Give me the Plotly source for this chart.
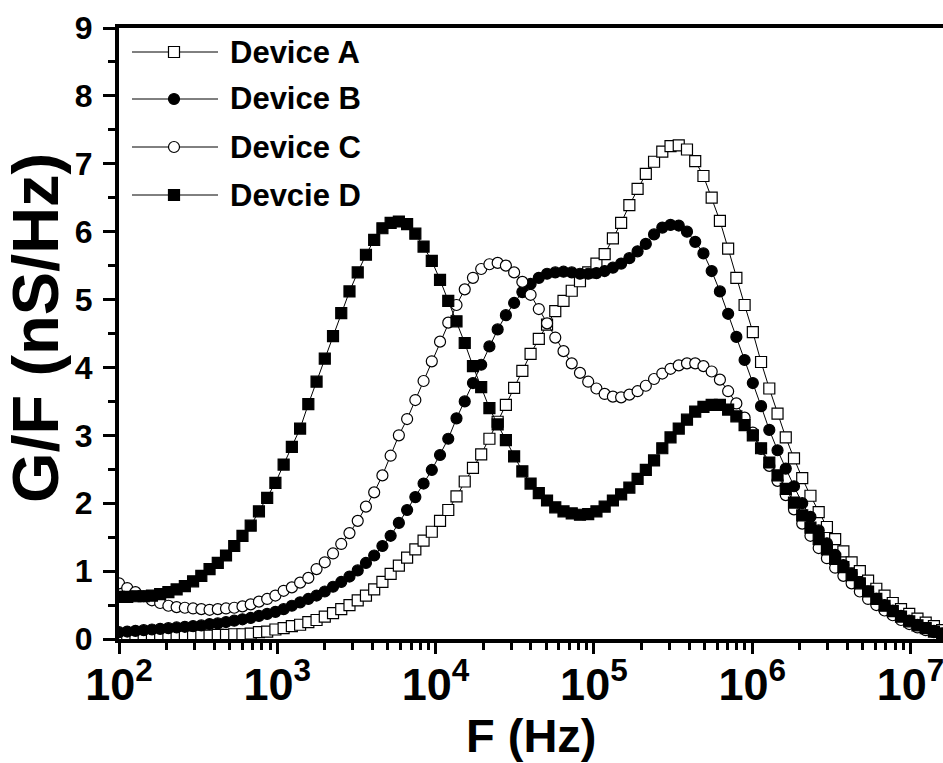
import numpy as np
import plotly.graph_objects as go

# Frequency sweep (Hz): 101 log-spaced points, 100 Hz .. ~16 MHz
freq_hz = np.logspace(2, 7.2, 101)

# Normalised parallel conductance G/F (nS/Hz)
device_a = [
    0.03, 0.03, 0.03, 0.03, 0.03, 0.03, 0.03, 0.04, 0.04, 0.04,
    0.05, 0.05, 0.06, 0.06, 0.07, 0.07, 0.08, 0.10, 0.11, 0.14,
    0.16, 0.19, 0.21, 0.25, 0.28, 0.33, 0.38, 0.44, 0.50, 0.57,
    0.64, 0.73, 0.84, 0.96, 1.08, 1.20, 1.32, 1.45, 1.58, 1.74,
    1.90, 2.10, 2.32, 2.52, 2.72, 2.95, 3.20, 3.45, 3.70, 3.95,
    4.20, 4.42, 4.63, 4.83, 4.98, 5.13, 5.27, 5.40, 5.53, 5.67,
    5.90, 6.13, 6.39, 6.63, 6.85, 7.03, 7.18, 7.26, 7.27, 7.21,
    7.04, 6.82, 6.50, 6.16, 5.75, 5.32, 4.92, 4.52, 4.08, 3.69,
    3.32, 2.97, 2.66, 2.37, 2.11, 1.87, 1.65, 1.47, 1.29, 1.13,
    1.00, 0.86, 0.74, 0.64, 0.53, 0.44, 0.37, 0.30, 0.24, 0.19,
    0.13,
]
device_b = [
    0.10, 0.11, 0.12, 0.13, 0.14, 0.15, 0.16, 0.17, 0.18, 0.19,
    0.20, 0.22, 0.23, 0.25, 0.27, 0.29, 0.31, 0.34, 0.37, 0.40,
    0.44, 0.49, 0.54, 0.59, 0.64, 0.70, 0.77, 0.84, 0.92, 1.01,
    1.12, 1.23, 1.37, 1.52, 1.71, 1.90, 2.09, 2.29, 2.49, 2.71,
    2.95, 3.25, 3.50, 3.77, 4.04, 4.31, 4.56, 4.77, 4.95, 5.11,
    5.23, 5.32, 5.38, 5.40, 5.41, 5.40, 5.38, 5.38, 5.39, 5.42,
    5.47, 5.53, 5.61, 5.71, 5.82, 5.96, 6.06, 6.10, 6.09, 6.00,
    5.85, 5.68, 5.42, 5.12, 4.79, 4.45, 4.11, 3.77, 3.43, 3.08,
    2.78, 2.51, 2.25, 2.00, 1.80, 1.60, 1.41, 1.24, 1.09, 0.96,
    0.83, 0.70, 0.59, 0.50, 0.42, 0.34, 0.27, 0.21, 0.16, 0.12,
    0.08,
]
device_c = [
    0.82, 0.75, 0.69, 0.63, 0.57, 0.53, 0.49, 0.47, 0.46, 0.45,
    0.44, 0.43, 0.44, 0.45, 0.46, 0.48, 0.51, 0.55, 0.59, 0.64,
    0.71, 0.76, 0.83, 0.90, 1.03, 1.13, 1.26, 1.40, 1.56, 1.74,
    1.95, 2.16, 2.41, 2.70, 3.00, 3.24, 3.52, 3.80, 4.09, 4.38,
    4.66, 4.92, 5.15, 5.32, 5.45, 5.52, 5.54, 5.50, 5.40, 5.26,
    5.07, 4.86, 4.65, 4.44, 4.24, 4.06, 3.92, 3.79, 3.69, 3.61,
    3.57, 3.56, 3.60, 3.65, 3.73, 3.83, 3.91, 3.98, 4.03, 4.06,
    4.06, 4.02, 3.94, 3.82, 3.65, 3.47, 3.26, 3.04, 2.80, 2.55,
    2.33, 2.12, 1.91, 1.70, 1.52, 1.34, 1.19, 1.05, 0.93, 0.82,
    0.70, 0.59, 0.50, 0.42, 0.35, 0.28, 0.22, 0.17, 0.13, 0.10,
    0.07,
]
device_d = [
    0.62, 0.62, 0.63, 0.63, 0.64, 0.66, 0.69, 0.73, 0.78, 0.85,
    0.93, 1.03, 1.12, 1.23, 1.37, 1.52, 1.67, 1.88, 2.08, 2.30,
    2.57, 2.83, 3.10, 3.46, 3.79, 4.13, 4.46, 4.80, 5.12, 5.40,
    5.66, 5.88, 6.05, 6.13, 6.15, 6.11, 5.97, 5.78, 5.57, 5.29,
    4.98, 4.68, 4.36, 4.02, 3.71, 3.40, 3.16, 2.93, 2.69, 2.47,
    2.29, 2.15, 2.04, 1.94, 1.88, 1.85, 1.83, 1.84, 1.88, 1.95,
    2.04, 2.13, 2.23, 2.36, 2.49, 2.63, 2.81, 2.97, 3.10, 3.23,
    3.35, 3.42, 3.45, 3.45, 3.38, 3.28, 3.15, 3.00, 2.81, 2.60,
    2.41, 2.21, 2.01, 1.82, 1.64, 1.47, 1.32, 1.18, 1.06, 0.94,
    0.82, 0.70, 0.59, 0.49, 0.41, 0.33, 0.26, 0.20, 0.16, 0.11,
    0.08,
]

series_names = ["Device A", "Device B", "Device C", "Devcie D"]
series_values = [device_a, device_b, device_c, device_d]
# (plotly symbol, fill colour, legend shape type)
series_styles = [
    ("square", "white", "rect"),
    ("circle", "black", "circle"),
    ("circle", "white", "circle"),
    ("square", "black", "rect"),
]

FONT = "Liberation Sans, Arial, sans-serif"

# plot-area geometry in pixels
W, H = 943, 763
L, R, T, B = 119, 0, 28, 124
PW, PH = W - L - R, H - T - B

fig = go.Figure()
for name, vals, (sym, fill, _) in zip(series_names, series_values, series_styles):
    fig.add_trace(go.Scatter(
        x=freq_hz, y=vals, name=name, mode="lines+markers",
        line=dict(color="black", width=1),
        marker=dict(symbol=sym, size=11, color=fill,
                    line=dict(color="black", width=1.2)),
        showlegend=False,
    ))


def px_to_paper(px, py):
    return (px - L) / PW, (H - B - py) / PH


# hand-built legend: long line sample with the marker in the middle
shapes, annotations = [], []
legend_rows_py = [52, 99, 147, 195]
for name, (sym, fill, shp), py in zip(series_names, series_styles, legend_rows_py):
    x0, yy = px_to_paper(132, py)
    x1, _ = px_to_paper(218, py)
    xm, _ = px_to_paper(174, py)
    shapes.append(dict(type="line", xref="paper", yref="paper",
                       x0=x0, x1=x1, y0=yy, y1=yy,
                       line=dict(color="black", width=1)))
    shapes.append(dict(type=shp, xref="paper", yref="paper",
                       xsizemode="pixel", ysizemode="pixel",
                       xanchor=xm, yanchor=yy,
                       x0=-5.5, x1=5.5, y0=-5.5, y1=5.5,
                       fillcolor=fill, line=dict(color="black", width=1.2)))
    xt, _ = px_to_paper(228, py)
    annotations.append(dict(text=name, xref="paper", yref="paper",
                            x=xt, y=yy, xanchor="left", yanchor="middle",
                            showarrow=False,
                            font=dict(family=FONT, size=31, color="black",
                                      weight="bold")))

# axis titles placed as annotations
xt_x, xt_y = px_to_paper(531, 735)
annotations.append(dict(text="F (Hz)", xref="paper", yref="paper",
                        x=xt_x, y=xt_y, xanchor="center", yanchor="middle",
                        showarrow=False,
                        font=dict(family=FONT, size=47, color="black",
                                  weight="bold")))
yt_x, yt_y = px_to_paper(35, 328)
annotations.append(dict(text="G/F (nS/Hz)", xref="paper", yref="paper",
                        x=yt_x, y=yt_y, xanchor="center", yanchor="middle",
                        textangle=-90, showarrow=False,
                        font=dict(family=FONT, size=65, color="black",
                                  weight="bold")))

fig.update_layout(
    width=W, height=H,
    margin=dict(l=L, r=R, t=T, b=B, pad=0),
    paper_bgcolor="white", plot_bgcolor="white",
    font=dict(family=FONT, color="black", weight="bold"),
    shapes=shapes, annotations=annotations,
    showlegend=False,
)

fig.update_xaxes(
    type="log", range=[2, 2 + PW / 158.3], autorange=False,
    showgrid=False, zeroline=False,
    showline=True, linecolor="black", linewidth=4, mirror=True,
    ticks="outside", ticklen=11, tickwidth=3, tickcolor="black",
    dtick=1, exponentformat="power", showexponent="all",
    ticklabelstandoff=-6, ticklabeloverflow="allow",
    tickfont=dict(family=FONT, size=36, color="black", weight="bold"),
    minor=dict(ticks="outside", ticklen=7, tickwidth=3,
               tickcolor="black", dtick="D1", showgrid=False),
    automargin=False,
)
fig.update_yaxes(
    range=[0, 9], autorange=False,
    showgrid=False, zeroline=False,
    showline=True, linecolor="black", linewidth=4, mirror=False,
    ticks="outside", ticklen=12, tickwidth=3, tickcolor="black",
    dtick=1, ticklabelstandoff=4,
    tickfont=dict(family=FONT, size=32, color="black", weight="bold"),
    minor=dict(ticks="outside", ticklen=7, tickwidth=3,
               tickcolor="black", dtick=0.5, showgrid=False),
    automargin=False,
)

fig.write_html("out.html")
